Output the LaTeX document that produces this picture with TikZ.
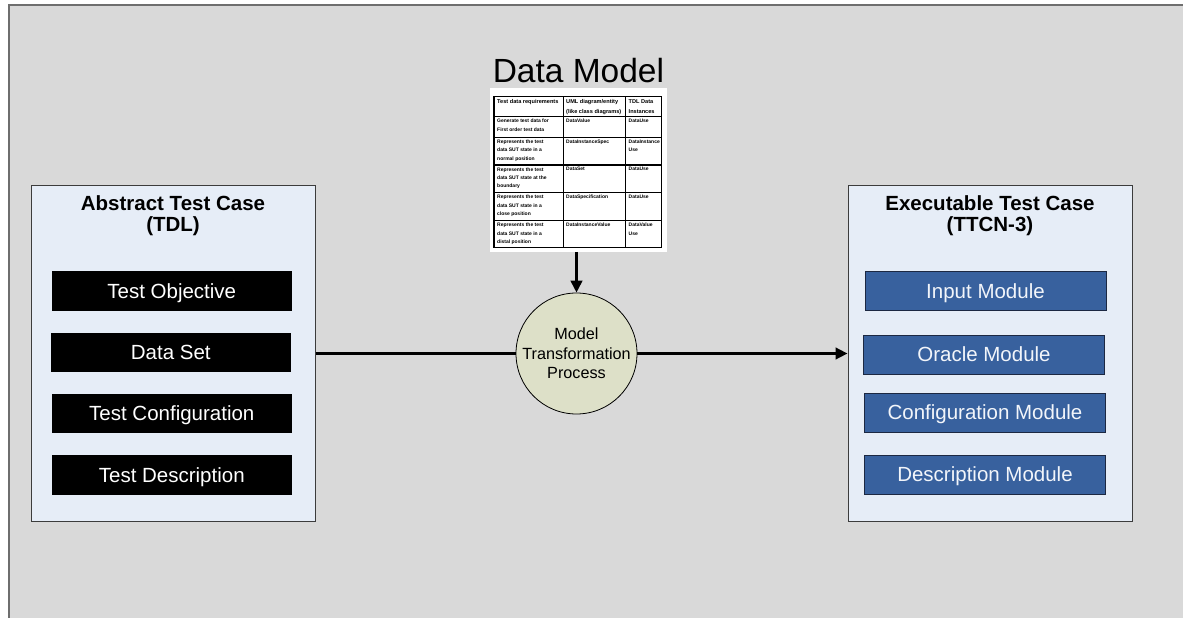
\documentclass[tikz,border=0pt]{standalone}
\usepackage{fontspec}
\setmainfont{Liberation Sans}
\usetikzlibrary{arrows.meta}

\definecolor{bggray}{RGB}{217,217,217}
\definecolor{bgedge}{RGB}{110,110,110}
\definecolor{panelfill}{RGB}{230,237,247}
\definecolor{paneledge}{RGB}{60,60,60}
\definecolor{modblue}{RGB}{56,97,158}
\definecolor{modedge}{RGB}{28,40,66}
\definecolor{procfill}{RGB}{221,224,200}

\tikzset{
  panel/.style={draw=paneledge, line width=1pt, fill=panelfill, inner sep=0pt,
    minimum width=284pt, minimum height=336pt},
  paneltitle/.style={font=\fontsize{20.5pt}{20pt}\selectfont\bfseries, inner sep=0pt, anchor=base},
  tdlitem/.style={fill=black, text=white, inner sep=0pt,
    font=\fontsize{20.5pt}{24pt}\selectfont, text height=14.8pt, text depth=0pt,
    minimum width=240.5pt, minimum height=39.5pt},
  ttcnitem/.style={fill=modblue, draw=modedge, line width=1pt, text={rgb,255:red,242;green,245;blue,250}, inner sep=0pt,
    font=\fontsize{20.5pt}{24pt}\selectfont, text height=14.8pt, text depth=0pt,
    minimum width=241pt, minimum height=39pt},
  process/.style={circle, draw=black, line width=0.8pt, fill=procfill, minimum size=121pt,
    inner sep=0pt, align=center, font=\fontsize{16.2pt}{19.5pt}\selectfont},
  flow/.style={line width=2.7pt, draw=black},
  flowarrow/.style={flow, -{Triangle[length=12pt,width=11.5pt]}},
  celltext/.style={anchor=north west, inner sep=0pt, align=left,
    font=\fontsize{5pt}{8.4pt}\selectfont\bfseries},
  headtext/.style={celltext, font=\fontsize{5.6pt}{10pt}\selectfont\bfseries},
}

\begin{document}
\begin{tikzpicture}[x=1pt, y=-1pt]
\useasboundingbox (0,0) rectangle (1183,618);
\clip (0,0) rectangle (1183,618);
\fill[white] (0,0) rectangle (1183,618);

% slide background, running off the right and bottom edges
\draw[fill=bggray, draw=bgedge, line width=1.5pt] (9,5) rectangle (1200,640);

% ---- abstract test case (TDL) ----
\node[panel] (abs) at (173,353.5) {};
\node[paneltitle] (abstitle) at (173,210.7) {Abstract Test Case};
\node[paneltitle] (abssub) at (173,231.5) {(TDL)};
\node[tdlitem] (obj)  at (171.8,291)   {Test Objective};
\node[tdlitem] (dset) at (170.8,352.5) {Data Set};
\node[tdlitem] (conf) at (171.8,413.5) {Test Configuration};
\node[tdlitem] (desc) at (171.8,475)   {Test Description};

% ---- executable test case (TTCN-3) ----
\node[panel] (exe) at (990,353.5) {};
\node[paneltitle] (exetitle) at (990,210.7) {Executable Test Case};
\node[paneltitle] (exesub) at (990,231.5) {(TTCN-3)};
\node[ttcnitem] (inmod)   at (985.5,291.2) {Input Module};
\node[ttcnitem] (ormod)   at (984,354.5)   {Oracle Module};
\node[ttcnitem] (cfgmod)  at (985,412.5)   {Configuration Module};
\node[ttcnitem] (descmod) at (985,474.5)   {Description Module};

% ---- data model table ----
\node[font=\fontsize{33.5pt}{34pt}\selectfont, inner sep=0pt, anchor=base] (dmtitle) at (578.4,82) {Data Model};
\node[fill=white, inner sep=0pt, minimum width=176.7pt, minimum height=163.4pt] (dm) at (578.35,170) {};
\begin{scope}[line width=1.3pt, draw=black]
  \draw (494,96.7) rectangle (661.7,247.7);
  \draw (563.3,96.7) -- (563.3,247.7);
  \draw (625.7,96.7) -- (625.7,247.7);
  \foreach \ry in {116.7,137.3,165,192.7,220.7}
    \draw (494,\ry) -- (661.7,\ry);
\end{scope}
% header row
\node[headtext] (h1) at (497,99.5) {Test data requirements};
\node[headtext] (h2) at (566,99.5) {UML diagram/entity\\(like class diagrams)};
\node[headtext] (h3) at (628.5,99.5) {TDL Data\\Instances};
% body rows
\node[celltext] (r1a) at (497,119)   {Generate test data for\\First order test data};
\node[celltext] (r1b) at (566,119)   {DataValue};
\node[celltext] (r1c) at (628.5,119) {DataUse};
\node[celltext] (r2a) at (497,139.5) {Represents the test\\data SUT state in a\\normal position};
\node[celltext] (r2b) at (566,139.5) {DataInstanceSpec};
\node[celltext] (r2c) at (628.5,139.5) {DataInstance\\Use};
\node[celltext] (r3a) at (497,167.2) {Represents the test\\data SUT state at the\\boundary};
\node[celltext] (r3b) at (566,167.2) {DataSet};
\node[celltext] (r3c) at (628.5,167.2) {DataUse};
\node[celltext] (r4a) at (497,195)   {Represents the test\\data SUT state in a\\close position};
\node[celltext] (r4b) at (566,195)   {DataSpecification};
\node[celltext] (r4c) at (628.5,195) {DataUse};
\node[celltext] (r5a) at (497,223)   {Represents the test\\data SUT state in a\\distal position};
\node[celltext] (r5b) at (566,223)   {DataInstanceValue};
\node[celltext] (r5c) at (628.5,223) {DataValue\\Use};

% ---- transformation process ----
\node[process] (proc) at (576.5,353.5) {Model\\Transformation\\Process};

% ---- flows ----
\draw[flowarrow] (dm.south -| proc.north) -- (proc.north);
\draw[flow] (abs.east) -- (proc.west);
\draw[flowarrow] (proc.east) -- (exe.west);
\end{tikzpicture}
\end{document}
